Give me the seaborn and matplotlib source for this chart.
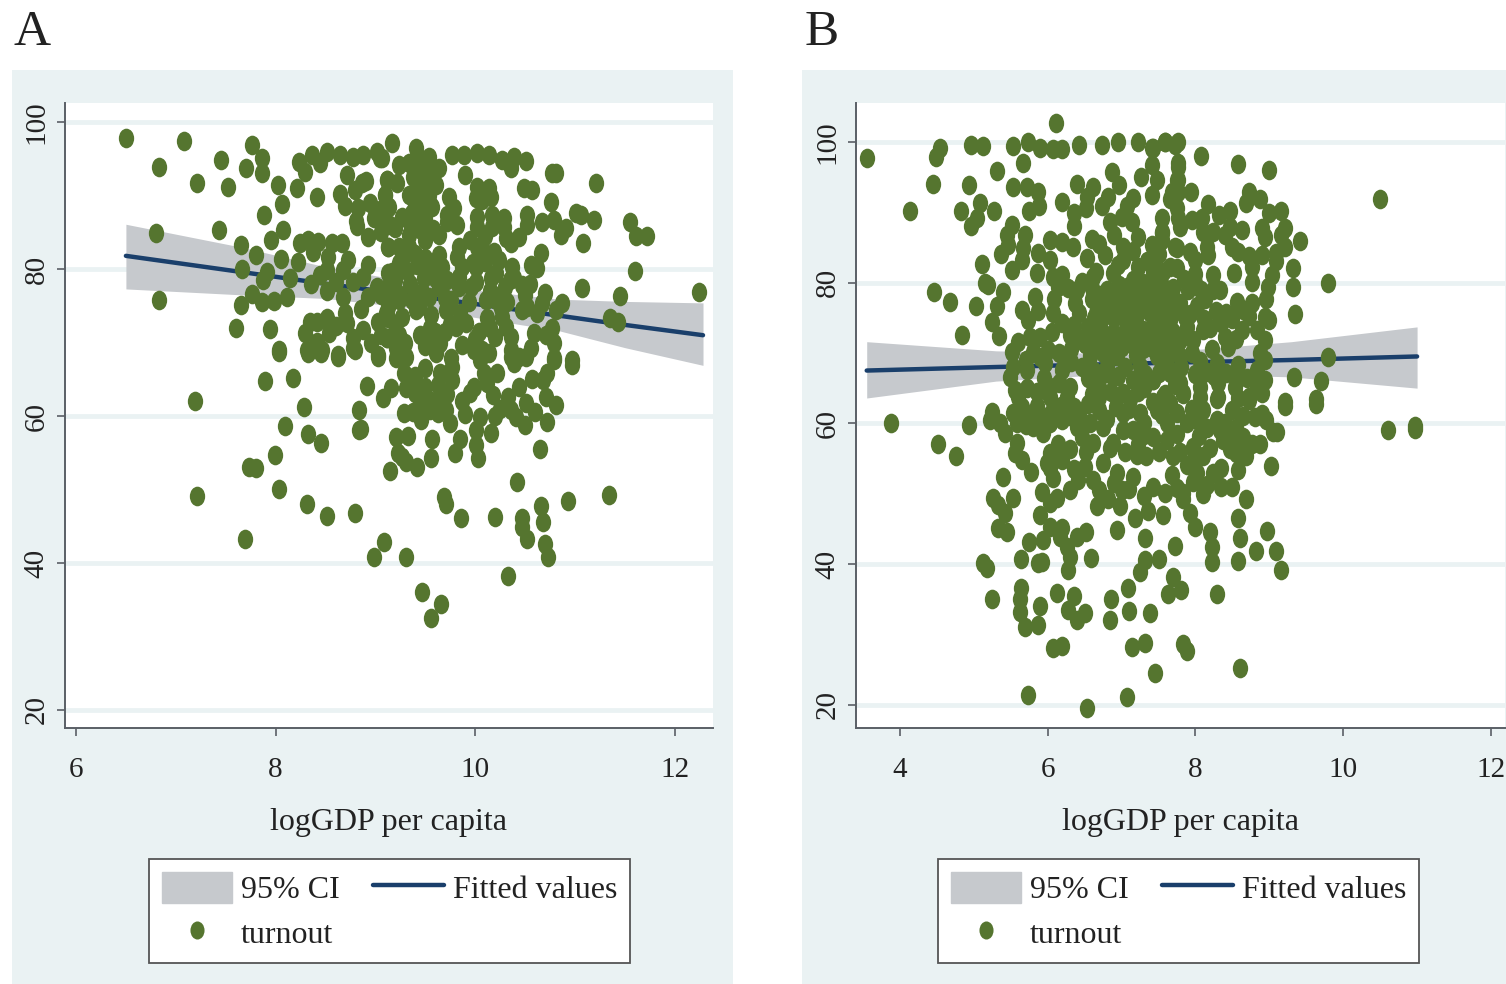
import matplotlib
matplotlib.use("Agg")
import matplotlib.pyplot as plt
import pandas as pd
import seaborn as sns
from matplotlib.lines import Line2D
from matplotlib.markers import MarkerStyle
from matplotlib.patches import Patch, Rectangle
from matplotlib.transforms import Affine2D

# ---- Panel A data (logGDP per capita, turnout) ----
a_sparse_left = [(6.50,97.8),(7.08,97.4),(6.83,93.9),(7.45,94.8),(7.70,93.7),(7.76,96.9),(7.86,95.1),(7.86,93.1),(7.21,91.7),(7.52,91.2),(8.02,91.4),(8.21,91.0),(8.41,89.8),(8.06,88.8),(7.88,87.3),(6.80,84.9),(7.43,85.3),(8.07,85.3),(7.95,83.9),(7.65,83.3),(7.80,81.9),(8.05,81.4),(7.66,80.0),(7.91,79.6),(7.87,78.5),(7.76,76.6),(7.65,75.1),(7.86,75.5),(7.98,75.6),(8.11,76.2),(6.83,75.8),(7.60,72.0),(7.94,71.8),(8.03,69.0)]
a_band_8_9 = [(8.23,94.6),(8.29,93.2),(8.36,95.5),(8.44,94.4),(8.51,95.9),(8.64,95.5),(8.77,95.2),(8.87,95.5),(9.01,95.9),(9.04,95.1),(8.71,92.8),(8.86,91.7),(8.79,90.7),(8.64,90.2),(8.69,88.6),(8.82,88.3),(8.94,89.0),(9.04,88.0),(9.11,92.1),(9.09,90.1),(8.81,85.9),(8.92,84.4),(9.12,83.0),(8.24,83.5),(8.32,83.9),(8.42,83.7),(8.37,82.3),(8.56,83.5),(8.66,83.5),(8.22,81.0),(8.52,81.6),(8.72,81.2),(8.51,79.9),(8.44,79.2),(8.67,79.9),(8.87,78.9),(8.77,78.2),(9.01,77.6),(8.14,78.8),(8.51,77.0),(8.67,76.2),(8.92,76.2),(8.69,74.0),(8.71,72.7),(8.51,73.3),(8.41,72.8),(8.34,72.8),(8.29,71.3),(8.53,71.3),(8.41,70.1),(8.46,69.0),(8.31,69.0),(8.62,68.3),(8.77,70.6),(8.87,71.7),(8.77,69.3),(9.02,72.8),(9.11,70.6),(9.02,68.3),(9.12,74.8),(9.12,79.5),(9.12,77.6)]
a_upper_right = [(9.17,97.1),(9.41,96.5),(9.54,95.2),(9.06,95.1),(9.24,94.1),(9.34,94.4),(9.64,93.7),(9.77,95.5),(9.89,95.5),(10.02,95.8),(10.14,95.5),(10.27,94.8),(10.39,95.2),(10.36,93.7),(10.51,94.7),(9.90,92.8),(10.77,93.1),(10.81,93.1),(11.21,91.7),(9.11,92.1),(9.22,91.7),(9.47,93.2),(9.42,92.1),(9.54,92.1),(9.61,91.4),(9.46,90.7),(9.34,90.1),(9.54,90.1),(9.39,89.4),(9.57,88.4),(9.74,89.8),(9.79,88.3),(9.09,90.1),(9.14,88.4),(9.06,87.6),(10.02,91.2),(10.01,89.7),(10.14,91.0),(10.16,89.8),(10.07,89.4),(10.49,91.0),(10.57,90.7),(10.76,89.1),(9.72,86.4),(9.82,86.0),(9.72,87.3),(9.27,87.1),(9.37,87.6),(9.20,85.6),(9.46,85.3),(9.34,84.6),(9.34,83.0),(9.12,83.0),(9.24,83.0),(9.64,84.6),(9.64,81.9),(9.67,80.3),(9.84,83.0),(9.82,81.6),(9.87,80.3),(9.84,78.9),(9.84,77.6),(10.02,87.1),(10.02,85.7),(10.17,87.3),(10.17,85.7),(10.29,86.9),(10.29,85.7),(10.52,87.3),(10.52,86.0),(10.67,86.4),(10.79,86.7),(10.86,84.6),(10.91,85.6),(11.01,87.6),(11.06,87.3),(11.19,86.7),(11.08,83.5),(11.55,86.4),(11.61,84.5),(11.72,84.5),(11.60,79.7),(10.31,84.2),(10.36,83.5),(10.44,84.4),(10.02,83.0),(10.07,82.9),(10.19,82.3),(10.24,81.2),(10.37,80.3),(10.21,79.5),(10.39,78.8),(10.16,78.8),(10.47,77.8),(10.01,80.3),(10.01,78.2),(9.96,77.6),(10.66,82.2),(10.56,80.5),(10.62,80.1),(9.17,79.6),(9.32,79.7),(9.24,80.8),(9.49,78.8),(11.07,77.4),(11.45,76.3),(12.24,76.9),(11.35,73.3),(11.43,72.8)]
a_middle = [(10.87,75.4),(10.81,74.4),(10.67,75.4),(10.62,74.0),(10.47,74.4),(10.52,74.8),(10.32,75.5),(10.21,75.8),(10.11,75.8),(9.94,75.5),(9.76,75.8),(9.71,74.4),(9.56,73.7),(9.44,74.8),(9.54,76.2),(9.64,77.6),(9.47,76.9),(9.37,75.8),(9.24,75.8),(9.12,77.1),(9.14,75.4),(9.12,73.3),(9.27,73.5),(9.41,74.4),(10.26,74.7),(10.27,73.5),(10.12,73.3),(10.04,71.4),(9.91,72.7),(9.81,72.1),(9.70,71.4),(10.31,72.1),(10.36,70.7),(10.36,69.0),(10.59,71.3),(10.71,71.0),(10.77,72.0),(10.79,69.9),(10.56,69.3),(9.11,70.6),(9.24,71.0),(9.21,69.3),(9.31,68.0),(9.61,68.7),(9.87,69.7),(9.99,69.0),(10.07,69.0),(10.14,68.6),(9.76,67.9),(10.79,67.9),(10.97,67.6),(10.44,68.0),(10.36,68.0)]
a_lower = [(7.19,62.0),(7.21,49.1),(7.89,64.8),(8.17,65.2),(8.28,61.2),(8.09,58.6),(8.32,57.6),(8.45,56.3),(7.99,54.7),(7.73,53.1),(7.80,52.9),(8.03,50.1),(8.31,48.0),(8.51,46.4),(8.79,46.8),(7.69,43.3),(9.08,42.9),(8.98,40.8),(9.31,40.8),(9.47,36.1),(9.66,34.4),(9.56,32.5),(9.15,52.5),(9.42,53.1),(9.56,54.3),(9.27,54.4),(9.31,53.7),(9.23,55.0),(9.21,57.1),(9.33,57.3),(9.57,56.9),(9.85,56.9),(9.80,55.0),(10.03,54.3),(10.01,56.1),(10.16,57.7),(10.01,58.1),(10.05,59.9),(10.65,55.5),(10.42,51.0),(9.69,49.0),(9.71,48.0),(9.86,46.1),(10.20,46.3),(10.47,46.1),(10.47,44.9),(10.66,47.8),(10.68,45.6),(10.93,48.4),(11.34,49.3),(10.52,43.3),(10.70,42.6),(10.73,40.8),(10.33,38.2),(10.97,66.9),(10.79,67.6),(10.72,65.9),(10.57,65.0),(10.68,64.9),(10.44,63.9),(10.71,62.6),(10.81,61.5),(10.33,62.6),(10.36,60.8),(10.51,61.8),(10.60,60.6),(10.41,59.9),(10.50,58.8),(10.72,59.2),(10.18,62.9),(9.95,63.1),(9.99,63.9),(10.22,65.9),(10.09,65.9),(10.05,67.6),(10.39,67.2),(10.51,68.0),(8.91,64.1),(9.07,62.4),(9.16,63.8),(9.31,63.8),(9.29,65.9),(9.21,67.9),(9.02,68.0),(8.83,60.8),(8.85,58.2),(8.83,58.1),(9.29,60.4),(9.46,59.5),(9.46,63.1),(9.44,61.2),(9.63,64.2),(9.63,62.2),(9.63,60.4),(9.71,60.8),(9.77,66.7),(9.77,64.9),(9.75,59.0),(9.54,62.2),(9.40,63.1),(9.56,61.2),(8.62,68.0),(8.45,68.6),(8.32,68.6),(8.03,68.7),(8.79,69.0),(9.61,68.6)]
a_dense_core = [(9.40,94.0),(9.45,95.0),(9.50,94.2),(9.52,92.8),(9.48,90.0),(9.55,88.8),(9.45,88.7),(9.05,71.0),(9.10,74.0),(9.20,72.5),(9.30,70.0),(9.25,76.5),(9.35,78.0),(9.45,71.0),(9.50,69.5),(9.55,72.0),(9.60,71.5),(9.65,70.0),(9.70,76.0),(9.75,72.5),(9.38,92.5),(9.44,93.5),(9.50,91.5),(9.58,93.0),(9.52,89.5),(9.43,87.8),(9.35,86.3),(9.50,86.8),(9.58,85.5),(9.40,82.0),(9.50,84.0),(9.50,81.5),(9.42,80.5),(9.55,80.0),(9.30,82.0),(9.20,78.5),(9.05,76.5),(9.60,78.8),(9.72,78.5),(9.95,84.0),(9.98,80.8),(10.10,84.5),(10.10,81.0),(10.35,78.5),(10.30,77.5),(10.55,78.0),(10.50,76.5),(10.70,76.8),(10.15,77.0),(10.25,76.5),(9.40,65.5),(9.50,64.0),(9.50,66.5),(9.55,60.8),(9.38,60.5),(9.72,63.0),(9.65,65.8),(9.87,62.0),(9.90,60.3),(10.25,61.0),(10.20,60.0),(10.12,64.5),(10.00,70.5),(10.20,70.7),(10.15,72.0),(9.55,70.0),(9.85,74.0),(8.85,74.5),(8.95,70.0),(8.60,72.3),(8.60,78.2),(8.35,78.0),(8.92,80.5),(8.80,86.5),(8.90,92.0),(8.98,87.0),(9.15,86.0),(9.05,85.0)]

a_fit_x = [6.50, 7.50, 8.50, 9.50, 10.50, 11.50, 12.28]
a_fit_y = [81.8, 79.9, 78.0, 76.2, 74.3, 72.4, 71.0]
a_ci_x = [6.50, 7.65, 8.50, 9.50, 10.84, 11.50, 12.28]
a_ci_upper = [86.1, 83.0, 80.3, 77.9, 75.9, 75.6, 75.4]
a_ci_lower = [77.3, 76.5, 76.0, 74.5, 71.6, 69.3, 66.9]

# ---- Panel B data ----
b_upper_left = [(3.55,97.7),(6.11,102.7),(4.54,99.1),(4.49,97.9),(4.96,99.6),(5.12,99.4),(5.53,99.4),(5.73,99.9),(5.89,99.1),(5.66,97.0),(6.07,98.9),(6.19,98.9),(6.42,99.6),(6.73,99.6),(6.95,99.9),(7.22,99.9),(7.41,99.1),(7.59,99.9),(7.72,99.6),(5.32,95.9),(4.45,94.0),(4.93,93.8),(5.08,91.3),(4.14,90.1),(4.83,90.1),(5.27,90.1),(5.04,89.2),(4.96,88.0),(5.53,93.6),(5.72,93.5),(5.87,92.9),(5.88,90.8),(5.75,90.1),(6.19,91.5),(6.39,94.0),(6.61,93.6),(6.53,92.2),(6.52,90.6),(6.35,89.9),(6.35,88.0),(6.87,95.7),(6.96,93.8),(7.26,95.0),(7.41,96.7),(7.48,94.6),(7.41,92.5),(7.15,92.0),(6.81,92.2),(6.73,90.8),(7.07,90.8),(6.84,88.6),(7.00,89.3),(7.14,88.6),(7.55,89.2),(7.55,87.2),(7.22,86.5),(7.41,85.4),(7.55,86.1),(7.72,85.1),(7.76,92.8),(7.76,94.6),(7.76,97.0),(6.60,86.2),(5.52,88.2),(5.45,86.8),(5.46,85.4),(5.37,84.0),(5.69,86.8),(5.66,84.9),(5.65,83.2),(5.52,81.8),(5.11,82.7),(5.15,80.0),(5.19,79.7),(4.46,78.6),(4.68,77.3),(5.03,76.6),(4.84,72.6),(5.39,78.6),(5.31,76.6),(5.24,74.4),(5.34,72.4)]
b_middle_left = [(5.65,76.1),(5.73,74.7),(5.87,75.9),(5.83,78.0),(5.85,81.4),(5.87,84.2),(6.03,86.1),(6.20,85.7),(6.34,85.1),(6.03,83.2),(6.07,80.8),(6.20,81.1),(6.14,79.4),(6.08,77.6),(6.07,75.7),(6.20,74.3),(6.06,73.0),(5.89,72.3),(5.76,72.3),(5.60,71.6),(5.52,70.2),(6.53,83.5),(6.77,83.9),(7.02,85.1),(7.02,83.2),(7.22,82.2),(7.45,81.8),(7.65,82.2),(6.46,80.1),(6.61,80.8),(6.88,81.4),(7.15,80.4),(6.80,79.0),(7.29,80.0),(7.56,79.4),(6.37,77.1),(6.43,75.7),(6.60,77.6),(6.66,75.7),(6.54,73.7),(6.75,75.1),(6.94,77.1),(7.07,78.0),(7.15,76.1),(7.48,77.6),(7.65,77.1),(7.38,75.7),(7.56,74.3),(7.29,73.3),(7.42,71.9),(6.88,72.9),(7.11,73.7),(6.88,70.9),(7.11,71.4),(6.57,69.5),(6.75,70.0),(6.94,69.5),(7.29,70.5),(7.48,69.5),(7.65,70.0),(5.53,68.0),(5.72,67.6),(5.96,68.6),(6.20,67.6),(6.47,68.0),(5.49,66.6),(5.56,64.8),(6.03,65.2),(6.30,65.2),(6.70,65.2),(6.88,66.6),(7.15,66.2),(7.42,66.2),(7.65,67.2),(7.02,64.3),(7.56,63.8)]
b_right = [(7.42,99.1),(7.59,99.9),(7.76,100.0),(8.07,98.0),(8.58,96.9),(8.99,96.0),(7.76,96.4),(7.75,94.6),(7.68,92.9),(7.65,91.8),(7.75,90.6),(7.76,89.2),(7.94,92.8),(8.17,91.1),(8.72,92.9),(8.69,91.3),(8.88,91.8),(10.50,91.9),(8.32,89.6),(8.47,90.2),(9.00,89.9),(9.16,90.1),(7.95,88.9),(8.09,89.2),(7.79,87.9),(7.55,87.1),(7.45,85.1),(8.90,87.8),(8.94,86.5),(9.21,87.8),(9.16,86.8),(9.21,85.1),(9.41,85.9),(8.10,87.2),(8.24,87.2),(8.40,86.8),(8.47,87.9),(8.63,87.4),(8.15,85.1),(8.17,83.9),(8.50,85.1),(8.58,84.4),(7.75,84.9),(7.92,84.4),(7.99,83.2),(8.90,83.9),(8.73,83.7),(8.77,82.2),(9.09,84.2),(9.09,83.0),(9.32,82.1),(9.32,79.4),(9.80,80.0),(7.75,82.1),(7.56,81.5),(7.42,81.5),(8.00,81.2),(8.24,81.1),(8.52,81.4),(8.76,80.1),(9.03,81.1),(8.98,79.3),(8.24,79.0),(8.13,77.6),(8.33,79.0),(8.56,77.3),(8.42,75.7),(8.64,76.1),(8.77,77.1),(8.96,77.6),(8.94,75.1),(9.00,74.7),(9.35,75.6),(8.28,75.9),(7.79,77.1),(7.86,75.1),(7.65,74.7),(7.88,73.7),(7.52,77.1),(7.48,73.7),(7.49,71.9),(8.10,73.3),(7.96,71.9),(7.79,71.9),(7.61,70.5),(8.40,72.3),(8.44,70.9),(8.63,73.3),(8.83,73.3),(8.94,71.9),(8.87,70.0),(8.94,69.0),(7.95,70.0),(7.79,69.5),(8.22,70.5),(8.06,68.8),(8.29,68.6),(8.58,68.3),(9.80,69.4),(8.83,67.6),(8.94,66.2),(8.83,65.2),(9.33,66.6),(9.70,66.0),(7.65,67.6),(7.79,65.8),(7.42,66.2),(8.06,65.2),(8.30,65.8),(8.53,65.2),(8.42,67.2),(7.59,64.1),(7.83,64.1),(8.06,63.8),(8.30,63.8),(8.57,63.6),(8.73,63.8),(8.90,64.3),(9.21,63.1),(9.63,63.4),(10.60,59.0),(10.97,59.6),(10.97,59.2)]
b_lower = [(3.88,60.1),(4.93,59.8),(4.51,57.0),(4.76,55.3),(5.24,61.6),(5.22,60.5),(5.35,60.0),(5.42,58.7),(5.53,61.5),(5.58,60.0),(5.78,61.2),(5.80,59.5),(5.94,58.7),(5.58,57.2),(5.56,55.8),(5.65,54.8),(5.78,53.1),(5.39,52.4),(5.26,49.4),(5.33,48.4),(5.42,47.3),(5.53,49.4),(5.33,45.2),(5.45,44.5),(5.12,40.2),(5.18,39.5),(5.24,35.1),(5.64,36.6),(5.62,35.0),(5.62,33.2),(5.69,31.1),(5.87,31.4),(5.89,34.0),(6.12,35.9),(6.35,35.5),(6.27,33.5),(6.39,32.1),(6.50,33.1),(5.64,40.8),(5.87,40.2),(5.92,40.3),(5.75,43.2),(5.94,43.5),(6.27,39.2),(6.30,41.0),(6.26,42.5),(6.16,43.9),(6.19,45.2),(6.03,45.3),(5.89,47.0),(6.58,40.9),(6.39,43.9),(6.52,44.5),(6.03,48.7),(5.92,50.3),(6.12,49.4),(6.30,50.6),(6.41,52.0),(6.03,53.7),(6.07,52.3),(6.14,57.0),(6.03,55.8),(5.99,54.4),(6.61,52.0),(6.70,50.6),(6.67,48.2),(6.81,49.2),(6.98,48.2),(6.94,44.9),(7.18,46.6),(7.36,47.5),(7.56,47.0),(7.32,43.7),(7.72,42.6),(7.32,40.6),(7.25,38.9),(7.51,40.8),(7.09,36.6),(6.85,35.0),(6.84,32.1),(7.10,33.4),(7.38,33.1),(7.69,38.2),(7.81,36.4),(7.63,35.7),(8.29,35.8),(6.07,28.1),(6.20,28.4),(7.14,28.3),(7.32,28.8),(7.83,28.6),(7.88,27.6),(7.45,24.6),(8.60,25.3),(5.73,21.4),(6.53,19.6),(7.07,21.2),(8.20,44.5),(8.22,42.5),(8.22,40.3),(8.57,46.6),(8.60,43.7),(8.57,40.5),(8.82,41.8),(8.97,44.7),(9.09,41.8),(9.16,39.2),(8.68,49.2),(7.92,47.3),(7.99,45.3),(7.83,49.2),(9.02,54.0),(9.05,58.8),(9.10,58.8),(9.21,62.5),(9.63,62.8),(8.57,53.4),(8.35,51.0),(8.50,50.9),(8.24,53.0),(8.35,53.7),(8.02,53.0),(7.96,51.6),(7.83,50.1),(7.68,52.7),(7.59,50.1),(7.88,54.1),(7.42,51.0),(8.76,57.0),(8.87,57.0),(8.64,58.1),(8.80,60.9),(8.20,56.5),(8.37,57.7),(8.47,56.3),(7.96,56.7),(7.79,56.0),(7.51,56.0),(7.21,55.5),(7.15,52.4),(6.94,53.0),(6.75,54.4),(6.84,56.5),(7.00,50.6),(6.46,58.1),(6.61,57.2),(6.43,61.5),(6.57,60.0),(6.70,61.9),(6.88,57.2),(7.02,61.5),(7.25,61.5),(7.15,59.1),(7.42,58.1),(7.61,60.0),(7.48,61.9),(7.65,62.9),(7.88,60.0),(8.10,61.9),(8.29,60.5),(8.50,61.9),(8.73,63.3),(6.03,60.0),(6.20,60.5),(6.39,59.5),(6.03,63.8),(6.26,63.8),(5.60,63.8),(6.70,63.8),(7.11,63.4),(7.83,64.3),(8.29,63.4)]
b_dense_core = [(6.60,79.2),(6.72,78.3),(6.85,78.6),(6.97,79.6),(7.08,79.3),(7.20,78.4),(7.33,78.7),(7.44,79.4),(7.60,78.5),(7.70,79.2),(6.62,74.9),(6.76,77.0),(6.83,76.4),(6.90,75.0),(7.00,75.9),(7.06,74.6),(7.20,75.0),(7.27,76.5),(7.35,77.2),(7.44,74.5),(7.52,75.6),(7.62,76.2),(7.71,75.8),(6.62,72.6),(6.72,73.2),(6.80,71.8),(6.95,72.4),(7.03,72.9),(7.18,72.5),(7.24,71.3),(7.35,72.7),(7.52,72.8),(7.60,72.2),(7.70,73.0),(6.68,71.1),(6.82,70.0),(7.00,70.9),(7.20,69.7),(7.38,70.8),(7.55,71.0),(7.72,71.2),(6.50,71.2),(6.60,70.9),(6.32,70.5),(6.15,70.0),(6.00,70.4),(5.80,70.1),(5.70,69.0),(5.90,69.4),(6.32,68.7),(6.62,67.5),(6.80,68.2),(7.05,68.0),(7.25,68.1),(7.60,68.6),(7.80,68.0),(6.55,66.5),(6.75,67.0),(6.95,66.7),(7.32,67.0),(7.50,67.2),(7.22,64.5),(7.30,65.0),(7.72,65.5),(6.60,64.2),(6.85,64.5),(6.15,65.7),(5.72,65.0),(5.85,64.5),(5.95,66.5),(8.00,67.0),(8.15,67.3),(8.25,66.7),(8.55,67.0),(8.70,66.5),(7.92,75.5),(8.02,76.6),(8.12,74.8),(8.20,73.5),(8.35,74.3),(8.50,74.8),(8.55,72.0),(8.72,75.2),(8.08,78.9),(7.90,79.0),(7.85,80.5),(8.00,80.0),(6.30,72.5),(6.45,72.0),(6.35,74.0),(6.40,79.0),(6.28,79.2),(6.65,81.5),(6.95,82.5),(7.35,83.0),(7.45,83.7),(6.70,85.5),(6.90,86.8),(7.15,84.5),(7.50,84.0),(6.05,61.5),(6.18,62.5),(6.30,61.0),(6.35,62.3),(6.55,62.7),(6.80,60.6),(6.92,62.3),(7.10,62.0),(7.30,60.0),(7.42,63.0),(7.55,61.2),(7.75,61.5),(7.95,62.0),(8.02,60.5),(8.15,59.3),(8.40,60.0),(8.55,59.3),(8.65,61.0),(8.90,61.3),(8.95,60.5),(8.45,58.3),(8.33,59.0),(8.05,58.2),(7.75,58.5),(7.30,58.3),(7.02,59.0),(6.75,59.5),(5.70,59.8),(5.95,60.7),(5.85,62.5),(5.65,62.3),(7.05,56.0),(7.22,57.0),(7.33,55.4),(7.62,57.6),(7.70,55.4),(7.98,55.0),(8.10,55.3),(8.55,55.8),(8.60,56.8),(8.68,55.4),(6.52,56.0),(6.30,56.3),(6.20,54.8),(6.35,53.5),(6.50,53.8),(6.90,51.5),(7.10,50.7),(7.30,49.7),(7.75,50.8),(8.15,51.2),(8.10,50.0)]

b_fit_x = [3.55, 5.30, 7.20, 9.30, 11.00]
b_fit_y = [67.5, 68.0, 68.5, 69.0, 69.5]
b_ci_x = [3.55, 5.30, 7.20, 9.30, 11.00]
b_ci_upper = [71.6, 70.3, 69.8, 71.6, 73.7]
b_ci_lower = [63.6, 66.0, 67.2, 66.6, 65.0]

tick_a_x = [6, 8, 10, 12]
tick_b_x = [4, 6, 8, 10, 12]
tick_y = [20, 40, 60, 80, 100]
x_label = "logGDP per capita"
legend_labels = ["95% CI", "turnout", "Fitted values", ""]

PANEL = "#eaf2f3"
GREEN = "#55752f"
NAVY = "#1a3f6b"
BAND = "#c6c9cd"
AXIS = "#5a5f66"
W, H = 1506, 984

sns.set_theme(style="white")
plt.rcParams["font.family"] = ["Liberation Serif", "DejaVu Serif"]
fig = plt.figure(figsize=(W / 100, H / 100), dpi=100, facecolor="white")

oval = MarkerStyle("o", transform=Affine2D().scale(0.78, 1.0))


def add_panel(px, points, fit_x, fit_y, ci_x, ci_up, ci_lo, xlim, ylim, xticks, letter, letter_x, legend_x):
    left, right, top, bottom = px
    ax = fig.add_axes([left / W, 1 - bottom / H, (right - left) / W, (bottom - top) / H])
    ax.set_facecolor("white")
    df = pd.DataFrame(points, columns=["gdp", "turnout"])
    fit = pd.DataFrame({"gdp": fit_x, "fit": fit_y})
    ax.fill_between(ci_x, ci_lo, ci_up, color=BAND, lw=0, zorder=2)
    sns.lineplot(data=fit, x="gdp", y="fit", ax=ax, color=NAVY, lw=3.2, zorder=3, errorbar=None)
    sns.scatterplot(data=df, x="gdp", y="turnout", ax=ax, marker=oval, s=200, color=GREEN,
                    edgecolor=GREEN, linewidth=0, zorder=4)
    ax.set_xlim(*xlim)
    ax.set_ylim(*ylim)
    ax.set_xticks(xticks)
    ax.set_yticks(tick_y)
    ax.grid(axis="y", color=PANEL, lw=3.4, zorder=1)
    ax.grid(axis="x", visible=False)
    ax.set_axisbelow(True)
    for s in ("top", "right"):
        ax.spines[s].set_visible(False)
    for s in ("left", "bottom"):
        ax.spines[s].set_color(AXIS)
        ax.spines[s].set_linewidth(1.4)
    ax.tick_params(axis="both", length=6, width=1.2, color=AXIS, labelsize=21, labelcolor="#222222",
                   left=True, bottom=True)
    ax.tick_params(axis="x", pad=15)
    ax.tick_params(axis="y", pad=5)
    for t in ax.get_yticklabels():
        t.set_rotation(90)
        t.set_va("center")
    ax.set_xlabel(x_label, fontsize=23, color="#222222", labelpad=18)
    ax.set_ylabel("")
    handles = [
        Patch(facecolor=BAND, edgecolor=BAND),
        Line2D([], [], ls="", marker=oval, ms=13, color=GREEN, mew=0),
        Line2D([], [], color=NAVY, lw=3.2),
        Line2D([], [], alpha=0),
    ]
    leg = ax.legend(handles, legend_labels, ncol=2, loc="center",
                    bbox_to_anchor=(legend_x / W, 1 - 911 / H), bbox_transform=fig.transFigure,
                    fontsize=23, frameon=True, fancybox=False, framealpha=1, facecolor="white",
                    edgecolor="#555555", handlelength=2.2, handleheight=1.1, handletextpad=0.28,
                    columnspacing=1.05, labelspacing=0.35, borderpad=0.42, borderaxespad=0)
    leg.get_frame().set_linewidth(1.3)
    for txt in leg.get_texts():
        txt.set_color("#222222")
    fig.text(letter_x / W, 1 - 33 / H, letter, fontsize=37, color="#222222", ha="center", va="center")
    return ax


# panel backgrounds
for x0, x1 in ((12, 733), (802, 1506)):
    fig.add_artist(Rectangle((x0 / W, 0), (x1 - x0) / W, (984 - 70) / H, transform=fig.transFigure,
                             facecolor=PANEL, edgecolor="none", zorder=-5))

points_a = a_sparse_left + a_band_8_9 + a_upper_right + a_middle + a_lower + a_dense_core
points_b = b_upper_left + b_middle_left + b_right + b_lower + b_dense_core

add_panel((65, 713, 103, 728), points_a, a_fit_x, a_fit_y, a_ci_x, a_ci_upper, a_ci_lower,
          (5.89, 12.38), (17.55, 102.6), tick_a_x, "A", 32, 389.5)
add_panel((856, 1505, 103, 728), points_b, b_fit_x, b_fit_y, b_ci_x, b_ci_upper, b_ci_lower,
          (3.405, 12.19), (16.73, 105.5), tick_b_x, "B", 822, 1178.5)

fig.savefig("out.png", dpi=100, facecolor="white")
